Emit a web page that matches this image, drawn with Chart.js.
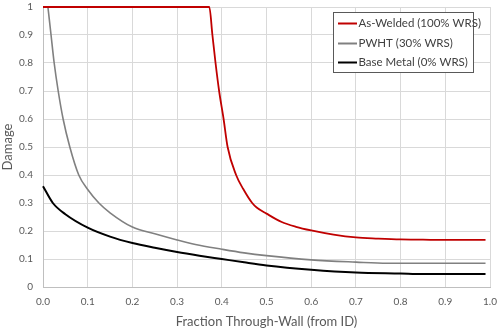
<!DOCTYPE html>
<html>
<head>
<meta charset="utf-8">
<script src="https://cdn.jsdelivr.net/npm/chart.js@4/dist/chart.umd.min.js"></script>
<style>
  html, body { margin: 0; padding: 0; background: #fff; }
  #wrap { width: 500px; height: 330px; }
</style>
</head>
<body>
<div id="wrap"><canvas id="chart" width="500" height="330"></canvas></div>
<script>
// data
const seriesNames = ['As-Welded (100% WRS)', 'PWHT (30% WRS)', 'Base Metal (0% WRS)'];

const weldedX = [0, 0.372, 0.379, 0.386, 0.394, 0.404, 0.413, 0.432, 0.448, 0.468, 0.478, 0.5, 0.534, 0.566, 0.6, 0.65, 0.70, 0.75, 0.80, 0.85, 0.90, 0.99];
const weldedY = [1, 1, 0.9, 0.8, 0.7, 0.6, 0.5, 0.4, 0.35, 0.3, 0.284, 0.262, 0.232, 0.215, 0.202, 0.187, 0.177, 0.173, 0.17, 0.169, 0.168, 0.168];

const pwhtX = [0.011, 0.018, 0.025, 0.034, 0.045, 0.06, 0.08, 0.1, 0.125, 0.15, 0.2, 0.25, 0.3, 0.341, 0.4, 0.45, 0.5, 0.6, 0.7, 0.77, 0.99];
const pwhtY = [1, 0.9, 0.8, 0.7, 0.6, 0.5, 0.4, 0.348, 0.3, 0.265, 0.214, 0.19, 0.168, 0.152, 0.135, 0.122, 0.112, 0.097, 0.089, 0.085, 0.085];

const baseX = [0, 0.022, 0.05, 0.1, 0.15, 0.2, 0.25, 0.3, 0.35, 0.4, 0.45, 0.5, 0.6, 0.7, 0.8, 0.85, 0.99];
const baseY = [0.36, 0.3, 0.26, 0.212, 0.18, 0.157, 0.14, 0.125, 0.112, 0.1, 0.088, 0.077, 0.062, 0.052, 0.048, 0.046, 0.046];

const xTickLabels = ['0.0', '0.1', '0.2', '0.3', '0.4', '0.5', '0.6', '0.7', '0.8', '0.9', '1.0'];
const yTickLabels = ['0', '0.1', '0.2', '0.3', '0.4', '0.5', '0.6', '0.7', '0.8', '0.9', '1'];

const FONT = 'Lato, "Open Sans", sans-serif';
const colors = ['#c00000', '#808080', '#000000'];

function pts(xs, ys) {
  return xs.map((x, i) => ({ x: x, y: ys[i] }));
}

// legend box drawn inside the plot, like the spreadsheet one
const boxLegend = {
  id: 'boxLegend',
  afterDraw(chart) {
    const ctx = chart.ctx;
    const left = 333.5, top = 12.5, w = 140, h = 60;
    ctx.save();
    ctx.fillStyle = '#fff';
    ctx.fillRect(left, top, w, h);
    ctx.strokeStyle = '#595959';
    ctx.lineWidth = 1;
    ctx.strokeRect(left, top, w, h);
    ctx.font = '11.5px ' + FONT;
    ctx.textBaseline = 'middle';
    const rows = [23.5, 43.5, 62.5];
    chart.data.datasets.forEach((ds, i) => {
      ctx.strokeStyle = ds.borderColor;
      ctx.lineWidth = 2;
      ctx.beginPath();
      ctx.moveTo(338, rows[i]);
      ctx.lineTo(357, rows[i]);
      ctx.stroke();
      ctx.fillStyle = '#404040';
      ctx.fillText(ds.label, 358.5, rows[i]);
    });
    ctx.restore();
  }
};

const ctx = document.getElementById('chart').getContext('2d');
new Chart(ctx, {
  type: 'line',
  data: {
    datasets: [
      { label: seriesNames[0], data: pts(weldedX, weldedY), borderColor: colors[0], borderWidth: 1.8 },
      { label: seriesNames[1], data: pts(pwhtX, pwhtY), borderColor: colors[1], borderWidth: 1.6 },
      { label: seriesNames[2], data: pts(baseX, baseY), borderColor: colors[2], borderWidth: 2 }
    ].map(d => Object.assign(d, { pointRadius: 0, fill: false, clip: 3, cubicInterpolationMode: 'monotone' }))
  },
  options: {
    responsive: false,
    animation: false,
    layout: { padding: { top: 7, right: 10, left: 0, bottom: 0 } },
    plugins: { legend: { display: false }, tooltip: { enabled: false } },
    scales: {
      x: {
        type: 'linear',
        min: 0, max: 1,
        afterBuildTicks(scale) {
          scale.ticks = xTickLabels.map((t, i) => ({ value: i / 10 }));
        },
        afterFit(scale) {
          scale.height = 43;
          scale.paddingLeft = 0;
          scale.paddingRight = 10;
        },
        grid: { color: '#d9d9d9', drawTicks: false, lineWidth: 1 },
        border: { color: '#bfbfbf' },
        ticks: {
          padding: 9,
          color: '#595959',
          font: { family: FONT, size: 10 },
          maxRotation: 0,
          callback: (v, i) => xTickLabels[i]
        },
        title: {
          display: true,
          text: 'Fraction Through-Wall (from ID)',
          color: '#595959',
          font: { family: FONT, size: 13 },
          padding: { top: 4, bottom: 0 }
        }
      },
      y: {
        type: 'linear',
        min: 0, max: 1,
        afterBuildTicks(scale) {
          scale.ticks = yTickLabels.map((t, i) => ({ value: i / 10 }));
        },
        afterFit(scale) {
          scale.width = 43;
          scale.paddingTop = 7;
          scale.paddingBottom = 0;
        },
        grid: { color: '#d9d9d9', drawTicks: false, lineWidth: 1 },
        border: { color: '#bfbfbf' },
        ticks: {
          padding: 10,
          color: '#595959',
          font: { family: FONT, size: 10 },
          callback: (v, i) => yTickLabels[i]
        },
        title: {
          display: true,
          text: 'Damage',
          color: '#595959',
          font: { family: FONT, size: 13 },
          padding: { top: 0, bottom: 0 }
        }
      }
    }
  },
  plugins: [boxLegend]
});
</script>
</body>
</html>
